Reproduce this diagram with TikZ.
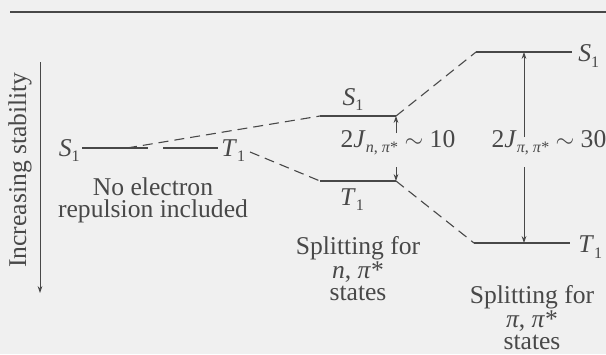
\documentclass[tikz,border=0pt]{standalone}
\usepackage{fontspec}
\setmainfont{Liberation Serif}
\usepackage{tikz}
\usetikzlibrary{arrows.meta, positioning}
\definecolor{ink}{RGB}{72,72,72}
\definecolor{paper}{RGB}{240,240,240}
\newcommand{\lowsub}[1]{\raisebox{-0.45ex}{\fontsize{8}{8}\selectfont #1}}
\tikzset{
  level/.style={draw=ink, line width=0.75pt},
  link/.style={draw=ink, line width=0.55pt, dash pattern=on 5pt off 3pt},
  gap/.style={draw=ink, line width=0.45pt, -{Stealth[length=3.5pt,width=2.4pt]}},
  txt/.style={text=ink, font=\fontsize{12.8}{11}\selectfont, inner sep=0pt},
}

\begin{document}
\begin{tikzpicture}[x=0.5pt, y=-0.5pt]
    \fill[paper] (0,0) rectangle (606,354); %背景
    \useasboundingbox (0,0) rectangle (606,354);
    \coordinate (ruleL) at (10,12);
    \coordinate (ruleR) at (606,12);
    \draw[ink, line width=0.6pt] (ruleL) -- (ruleR); %上の罫線

    % 安定性の軸
    \coordinate (axT) at (40,62);
    \coordinate (axB) at (40,293);
    \draw[gap] (axT) -- (axB);
    \node[txt, rotate=90] (axlab) at (20,170) {Increasing stability};

    % 電子反発なし
    \coordinate (s0a) at (82,148);
    \coordinate (s0m) at (127,148);
    \coordinate (s0b) at (148,148);
    \coordinate (t0a) at (163,148);
    \coordinate (t0b) at (218,148);
    \draw[level] (s0a) -- (s0b);
    \draw[level] (t0a) -- (t0b);
    \node[txt, anchor=base east] (s0lab) at (80,156) {\textit{S}\lowsub{1}};
    \node[txt, anchor=base west] (t0lab) at (221,156) {\textit{T}\lowsub{1}};
    \coordinate (t0e) at (250,152);
    \node[txt, align=center, anchor=north] (nolab) at (153,177) {No electron\\repulsion included};

    % n,pi* の分裂
    \coordinate (ms1l) at (320,116);
    \coordinate (ms1r) at (396,116);
    \coordinate (mt1l) at (320,181);
    \coordinate (mt1r) at (396,181);
    \draw[level] (ms1l) -- (ms1r);
    \draw[level] (mt1l) -- (mt1r);
    \node[txt, anchor=base] (ms1lab) at (353,105) {\textit{S}\lowsub{1}};
    \node[txt, anchor=base] (mt1lab) at (352,205) {\textit{T}\lowsub{1}};
    \node[txt, anchor=base] (jn) at (398,147) {2\textit{J}\lowsub{\textit{n}, \textit{π}*} $\sim$ 10};
    \coordinate (jnU) at (396,133);
    \coordinate (jnD) at (396,167);
    \draw[gap] (jnU) -- (ms1r);
    \draw[gap] (jnD) -- (mt1r);
    \node[txt, align=center, anchor=north] (nsplit) at (358,236) {Splitting for\\\textit{n}, \textit{π}*\\states};

    % pi,pi* の分裂
    \coordinate (rs1l) at (476,52);
    \coordinate (rs1r) at (572,52);
    \coordinate (rt1l) at (474,243);
    \coordinate (rt1r) at (570,243);
    \draw[level] (rs1l) -- (rs1r);
    \draw[level] (rt1l) -- (rt1r);
    \node[txt, anchor=west] (rs1lab) at (578,56) {\textit{S}\lowsub{1}};
    \node[txt, anchor=west] (rt1lab) at (578,247) {\textit{T}\lowsub{1}};
    \node[txt, anchor=base] (jp) at (549,147) {2\textit{J}\lowsub{\textit{π}, \textit{π}*} $\sim$ 30};
    \coordinate (jpU) at (524,137);
    \coordinate (jpD) at (524,167);
    \coordinate (jpT) at (524,52);
    \coordinate (jpB) at (524,243);
    \draw[gap] (jpU) -- (jpT);
    \draw[gap] (jpD) -- (jpB);
    \node[txt, align=center, anchor=north] (psplit) at (532,285) {Splitting for\\\textit{π}, \textit{π}*\\states};

    % 点線の対応
    \draw[link] (s0m) -- (ms1l);
    \draw[link] (t0e) -- (mt1l);
    \draw[link] (ms1r) -- (rs1l);
    \draw[link] (mt1r) -- (rt1l);
\end{tikzpicture}
\end{document}
